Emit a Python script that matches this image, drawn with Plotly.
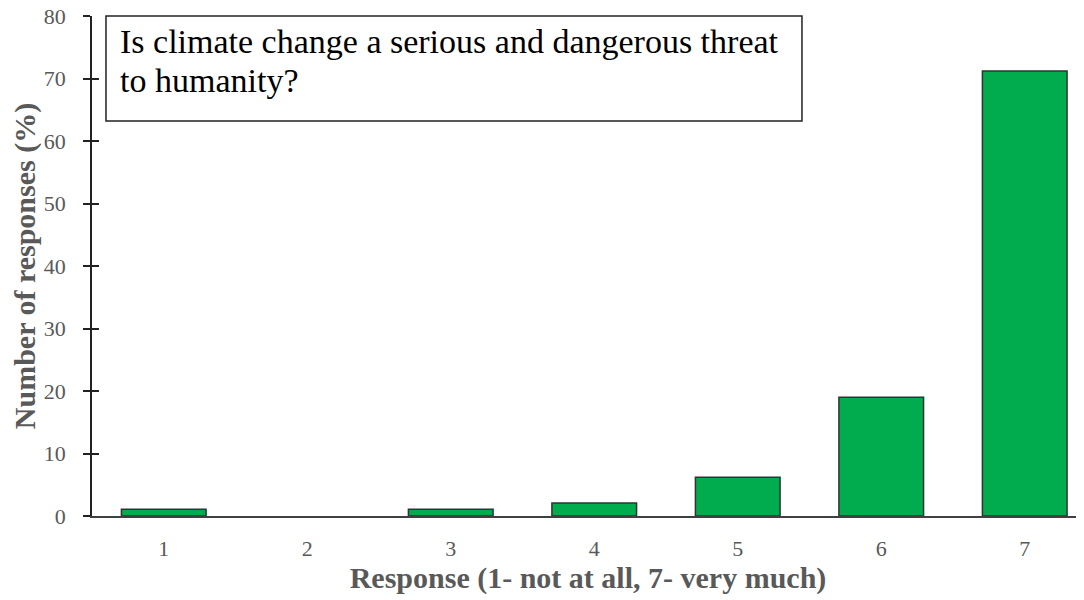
import plotly.graph_objects as go

responses = [1, 2, 3, 4, 5, 6, 7]
percent = [1.1, 0.0, 1.1, 2.1, 6.2, 19.0, 71.2]
tick_labels = ["1", "2", "3", "4", "5", "6", "7"]
y_ticks = [0, 10, 20, 30, 40, 50, 60, 70, 80]
question_lines = ["Is climate change a serious and dangerous threat", "to humanity?"]

FONT = "Liberation Serif, Times New Roman, serif"
GRAY = "#595959"

fig = go.Figure()
fig.add_trace(go.Bar(
    x=responses, y=percent, width=0.59,
    marker=dict(color="#00AC4E",
                line=dict(color="#333333", width=[1.5 if v > 0 else 0 for v in percent])),
    showlegend=False,
))
# invisible trace on second axis to carry inner ticks
fig.add_trace(go.Scatter(x=[responses[0]], y=[0], yaxis="y2", mode="markers",
                         marker=dict(opacity=0), showlegend=False, hoverinfo="skip"))

fig.update_layout(
    width=1076, height=592,
    margin=dict(l=84, r=0, t=8, b=83.5),
    paper_bgcolor="white", plot_bgcolor="white",
    font=dict(family=FONT, color=GRAY),
    xaxis=dict(
        range=[0.5, 7.413], tickvals=responses, ticktext=tick_labels, automargin=False,
        showgrid=False, zeroline=False, showline=True, linecolor="#404040", linewidth=1.5,
        ticks="", ticklabelstandoff=12, tickfont=dict(size=22, color=GRAY),
        title=dict(text="<b>Response (1- not at all, 7- very much)</b>",
                   font=dict(size=30, color=GRAY), standoff=2),
    ),
    yaxis=dict(
        range=[0, 80], tickvals=y_ticks, showgrid=False, zeroline=False, automargin=False,
        showline=True, linecolor="#222222", linewidth=1.5,
        ticks="outside", ticklen=7, tickwidth=1.5, tickcolor="#222222",
        ticklabelstandoff=13, ticklabeloverflow="allow",
        tickfont=dict(size=22, color=GRAY),
        title=dict(text="<b>Number of responses (%)</b>",
                   font=dict(size=30, color=GRAY), standoff=4),
    ),
    yaxis2=dict(
        range=[0, 80], tickvals=y_ticks, overlaying="y", side="left", automargin=False,
        showgrid=False, zeroline=False, showline=False, showticklabels=False,
        ticks="inside", ticklen=7, tickwidth=1.5, tickcolor="#222222",
    ),
)

fig.add_shape(type="rect", xref="paper", yref="paper",
              x0=0.0141, x1=0.7157, y0=0.790, y1=1.0,
              line=dict(color="#222222", width=1.5), fillcolor="white", layer="above")
for line_text, ypos in zip(question_lines, [0.949, 0.872]):
    fig.add_annotation(xref="paper", yref="paper", x=0.0262, y=ypos,
                       xanchor="left", yanchor="middle", align="left", showarrow=False,
                       text=line_text,
                       font=dict(family=FONT, size=34, color="black"))

fig.write_html("out.html")
